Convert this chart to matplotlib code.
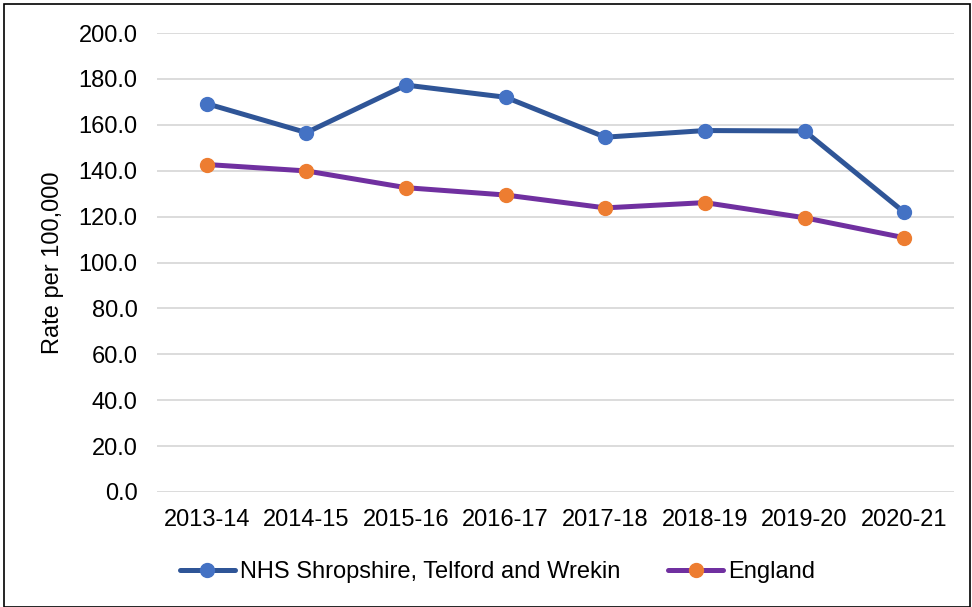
import matplotlib
matplotlib.use("Agg")
import matplotlib.pyplot as plt
from matplotlib.patches import Rectangle

plt.rcParams['font.family'] = ['Liberation Sans', 'DejaVu Sans']

years = ["2013-14", "2014-15", "2015-16", "2016-17", "2017-18", "2018-19", "2019-20", "2020-21"]
nhs_stw = [169.2, 156.6, 177.3, 172.0, 154.6, 157.5, 157.3, 121.9]
england = [142.7, 139.9, 132.6, 129.4, 123.8, 126.1, 119.5, 110.8]
yticks = [0, 20, 40, 60, 80, 100, 120, 140, 160, 180, 200]

W, H = 972, 607
FS = 17
fig = plt.figure(figsize=(W / 100, H / 100), dpi=100)
ax = fig.add_axes([157 / W, 1 - 492 / H, (954 - 157) / W, (492 - 33) / H])

x = list(range(len(years)))
ax.plot(x, nhs_stw, color="#2F5597", lw=3.6, marker="o", ms=10,
        mfc="#4472C4", mec="#4472C4", solid_capstyle="round",
        label="NHS Shropshire, Telford and Wrekin", zorder=3)
ax.plot(x, england, color="#7030A0", lw=3.6, marker="o", ms=10,
        mfc="#ED7D31", mec="#ED7D31", solid_capstyle="round",
        label="England", zorder=3)

ax.set_xlim(-0.5, len(years) - 0.5)
ax.set_ylim(0, 200)
ax.set_yticks(yticks)
ax.set_yticklabels([f"{v:.1f}" for v in yticks], fontsize=FS)
ax.set_xticks(x)
ax.set_xticklabels(years, fontsize=FS)
ax.grid(axis="y", color="#D9D9D9", lw=1.3)
ax.set_axisbelow(True)
for s in ax.spines.values():
    s.set_visible(False)
ax.tick_params(axis="y", length=0, pad=14)
ax.tick_params(axis="x", length=0, pad=12)
ax.set_ylabel("Rate per 100,000", fontsize=FS)
ax.yaxis.set_label_coords(-0.117, 0.5)

fig.legend(loc="center", bbox_to_anchor=(497.5 / W, 1 - 572 / H), ncol=2,
           frameon=False, fontsize=FS, handlelength=2.33, handletextpad=0.21,
           columnspacing=2.03)

fig.patches.append(Rectangle((4 / W, 0), (W - 6) / W, 1 - 4 / H, transform=fig.transFigure,
                             fill=False, edgecolor="black", lw=1.2))

fig.savefig("out.png", dpi=100)
